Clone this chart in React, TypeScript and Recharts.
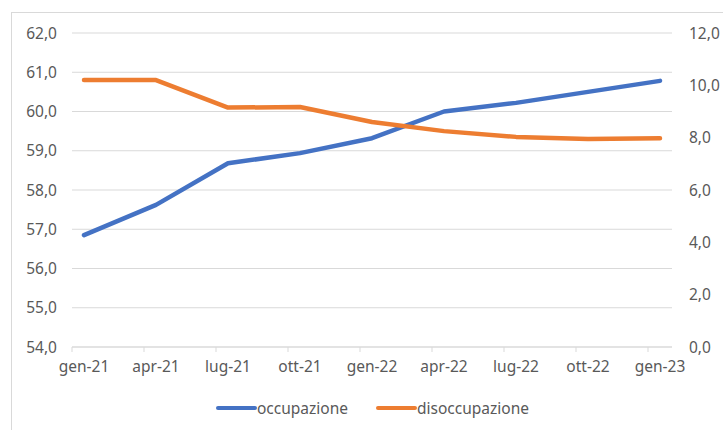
import React from 'react';
import { LineChart, Line, XAxis, YAxis, CartesianGrid, Legend } from 'recharts';

const monthIndex = [0, 3, 6, 9, 12, 15, 18, 21, 24];
const monthLabels = ['gen-21', 'apr-21', 'lug-21', 'ott-21', 'gen-22', 'apr-22', 'lug-22', 'ott-22', 'gen-23'];
const occupazione = [56.85, 57.62, 58.68, 58.94, 59.32, 60.0, 60.22, 60.5, 60.78];
const disoccupazione = [10.2, 10.2, 9.15, 9.17, 8.6, 8.25, 8.03, 7.95, 7.98];
const leftTicks = [54, 55, 56, 57, 58, 59, 60, 61, 62];
const rightTicks = [0, 2, 4, 6, 8, 10, 12];
const seriesOrder = ['occupazione', 'disoccupazione'];

const data = monthIndex.map((m, i) => ({
  m,
  label: monthLabels[i],
  occupazione: occupazione[i],
  disoccupazione: disoccupazione[i],
}));

const FONT = '"Noto Sans", sans-serif';
const TEXT = '#595959';
const GRID = '#d9d9d9';
const BLUE = '#4472C4';
const ORANGE = '#ED7D31';

const fmt = (v: number) => v.toFixed(1).replace('.', ',');

const XTick = (props: any) => {
  const { x, y, payload } = props;
  const idx = monthIndex.indexOf(payload.value);
  return (
    <g>
      <line x1={x - 12} x2={x - 12} y1={y} y2={y + 5} stroke={GRID} strokeWidth={1} />
      <text x={x} y={y + 25} textAnchor="middle" fill={TEXT} fontSize={15.5} fontFamily={FONT}>
        {idx >= 0 ? monthLabels[idx] : ''}
      </text>
    </g>
  );
};

const LegendContent = (props: any) => {
  const items = [...(props.payload || [])].sort(
    (a: any, b: any) => seriesOrder.indexOf(a.dataKey) - seriesOrder.indexOf(b.dataKey)
  );
  return (
    <div style={{ display: 'flex', justifyContent: 'center', height: 20, alignItems: 'center', paddingLeft: 22, boxSizing: 'border-box', fontFamily: FONT, fontSize: 15.5, color: TEXT }}>
      {items.map((it: any, i: number) => (
        <div key={i} style={{ display: 'flex', alignItems: 'center', marginRight: i === 0 ? 28 : 0 }}>
          <div style={{ width: 41, height: 4.5, background: it.color, borderRadius: 2 }} />
          <span>{it.value}</span>
        </div>
      ))}
    </div>
  );
};

export default function App() {
  return (
    <div style={{ position: 'absolute', left: 0, top: 0, width: 723, height: 430, background: '#fff', overflow: 'hidden' }}>
      <div style={{ position: 'absolute', left: 11, top: 12, width: 720, height: 430, border: `1px solid ${GRID}`, boxSizing: 'border-box' }} />
      <div style={{ position: 'absolute', left: 0, top: 0 }}>
        <LineChart width={723} height={430} data={data} margin={{ top: 33, right: 0, bottom: 33, left: 0 }}>
          <CartesianGrid vertical={false} stroke={GRID} strokeWidth={1.2} yAxisId="left" />
          <XAxis
            dataKey="m"
            type="number"
            domain={[-0.5, 24.5]}
            ticks={monthIndex}
            height={30}
            tickSize={0}
            tickMargin={0}
            tickLine={false}
            axisLine={{ stroke: GRID, strokeWidth: 1.2 }}
            tick={<XTick />}
            interval={0}
          />
          <YAxis
            yAxisId="left"
            domain={[54, 62]}
            ticks={leftTicks}
            width={72}
            axisLine={false}
            tickLine={false}
            tickSize={0}
            tickMargin={15}
            tickFormatter={fmt}
            tick={{ fill: TEXT, fontSize: 15.5, fontFamily: FONT }}
          />
          <YAxis
            yAxisId="right"
            orientation="right"
            domain={[0, 12]}
            ticks={rightTicks}
            width={51}
            axisLine={false}
            tickLine={false}
            tickSize={0}
            tickMargin={17}
            tickFormatter={fmt}
            tick={{ fill: TEXT, fontSize: 15.5, fontFamily: FONT, textAnchor: 'start' }}
          />
          <Legend
            verticalAlign="bottom"
            content={<LegendContent />}
            wrapperStyle={{ top: 398, left: 0, width: 723 }}
          />
          <Line
            yAxisId="left"
            type="linear"
            dataKey="occupazione"
            stroke={BLUE}
            strokeWidth={4.5}
            strokeLinecap="round"
            strokeLinejoin="round"
            dot={false}
            isAnimationActive={false}
          />
          <Line
            yAxisId="right"
            type="linear"
            dataKey="disoccupazione"
            stroke={ORANGE}
            strokeWidth={4.5}
            strokeLinecap="round"
            strokeLinejoin="round"
            dot={false}
            isAnimationActive={false}
          />
        </LineChart>
      </div>
    </div>
  );
}
